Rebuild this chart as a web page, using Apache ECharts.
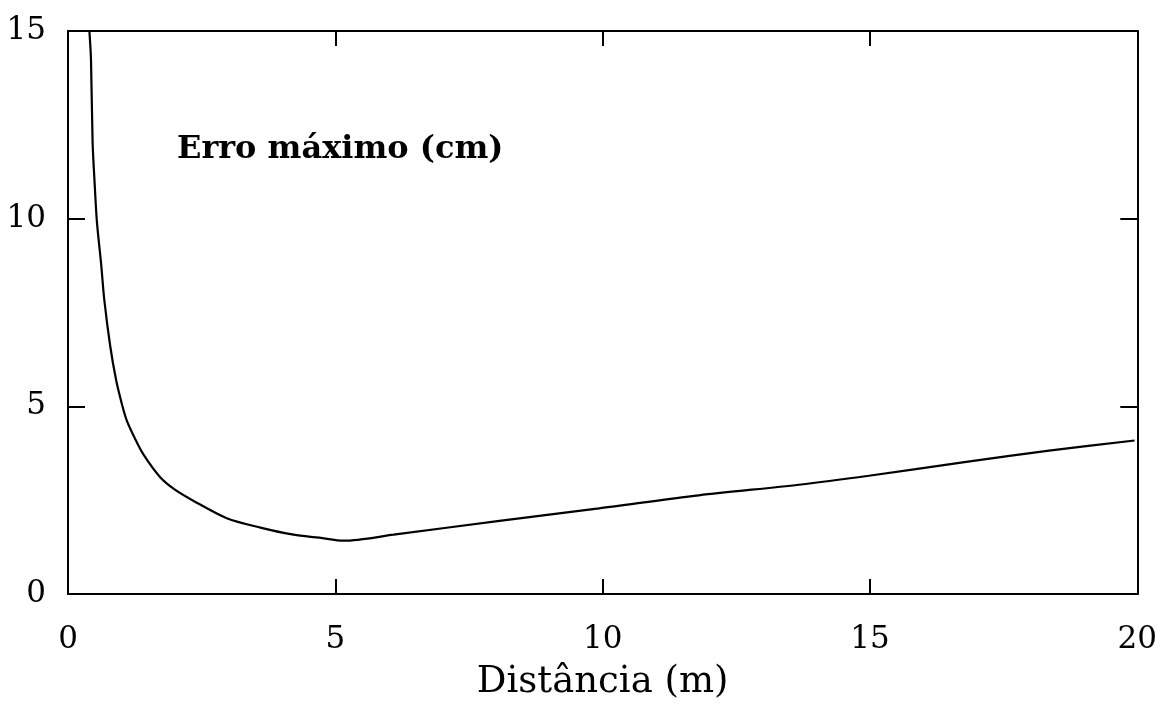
<!DOCTYPE html>
<html>
<head>
<meta charset="utf-8">
<script src="https://cdn.jsdelivr.net/npm/echarts@6/dist/echarts.min.js"></script>
<style>
html,body{margin:0;padding:0;background:#fff;overflow:hidden;}
#chart{width:1160px;height:706px;}
</style>
</head>
<body>
<div id="chart"></div>
<script>
// Distance (m)
var distance = [0.40, 0.43, 0.46, 0.50, 0.54, 0.62, 0.68, 0.79, 0.90, 1.01, 1.10, 1.25, 1.41, 1.72, 2.00, 2.35, 2.97, 3.60, 4.22, 4.70, 5.16, 6.09, 8.07, 9.93, 11.80, 13.67, 14.98, 16.80, 18.35, 19.95];
// Maximum error (cm)
var maxError = [15.0, 14.24, 12.04, 10.9, 9.93, 8.79, 7.82, 6.6, 5.7, 5.05, 4.62, 4.15, 3.72, 3.12, 2.78, 2.48, 2.02, 1.77, 1.58, 1.50, 1.42, 1.58, 1.95, 2.28, 2.63, 2.91, 3.15, 3.52, 3.82, 4.09];
var xTicks = [0, 5, 10, 15, 20];
var yTicks = [0, 5, 10, 15];
var xLabel = 'Distância (m)';
var curveLabel = 'Erro máximo (cm)';

var points = distance.map(function (d, i) { return [d, maxError[i]]; });
var FONT = 'DejaVu Serif';
var INK = '#000';

var chart = echarts.init(document.getElementById('chart'), null, {renderer: 'canvas'});
chart.setOption({
  backgroundColor: '#fff',
  animation: false,
  grid: {left: 68, right: 22, top: 31, bottom: 106, containLabel: false},
  xAxis: [{
    type: 'value', min: xTicks[0], max: xTicks[xTicks.length - 1], interval: 5, position: 'bottom',
    name: xLabel, nameLocation: 'middle', nameGap: 70,
    nameTextStyle: {fontFamily: FONT, fontSize: 37, color: INK},
    axisLine: {show: true, onZero: false, lineStyle: {color: INK, width: 2}},
    axisTick: {show: true, inside: true, length: 15, lineStyle: {color: INK, width: 2}},
    axisLabel: {fontFamily: FONT, fontSize: 31, color: INK, margin: 30},
    splitLine: {show: false}
  }, {
    type: 'value', min: xTicks[0], max: xTicks[xTicks.length - 1], interval: 5, position: 'top',
    axisLine: {show: true, onZero: false, lineStyle: {color: INK, width: 2}},
    axisTick: {show: true, inside: true, length: 15, lineStyle: {color: INK, width: 2}},
    axisLabel: {show: false},
    splitLine: {show: false}
  }],
  yAxis: [{
    type: 'value', min: yTicks[0], max: yTicks[yTicks.length - 1], interval: 5, position: 'left',
    axisLine: {show: true, onZero: false, lineStyle: {color: INK, width: 2}},
    axisTick: {show: true, inside: true, length: 17, lineStyle: {color: INK, width: 2}},
    axisLabel: {fontFamily: FONT, fontSize: 31, color: INK, margin: 22},
    splitLine: {show: false}
  }, {
    type: 'value', min: yTicks[0], max: yTicks[yTicks.length - 1], interval: 5, position: 'right',
    axisLine: {show: true, onZero: false, lineStyle: {color: INK, width: 2}},
    axisTick: {show: true, inside: true, length: 17, lineStyle: {color: INK, width: 2}},
    axisLabel: {show: false},
    splitLine: {show: false}
  }],
  graphic: [{
    type: 'text', left: 177, top: 134,
    style: {text: curveLabel, fontFamily: FONT, fontSize: 32, fontWeight: 'bold', fill: INK}
  }],
  series: [{
    type: 'line', xAxisIndex: 0, yAxisIndex: 0,
    data: points, showSymbol: false, smooth: 0.3, clip: true,
    lineStyle: {color: INK, width: 2.2}
  }]
});
</script>
</body>
</html>
